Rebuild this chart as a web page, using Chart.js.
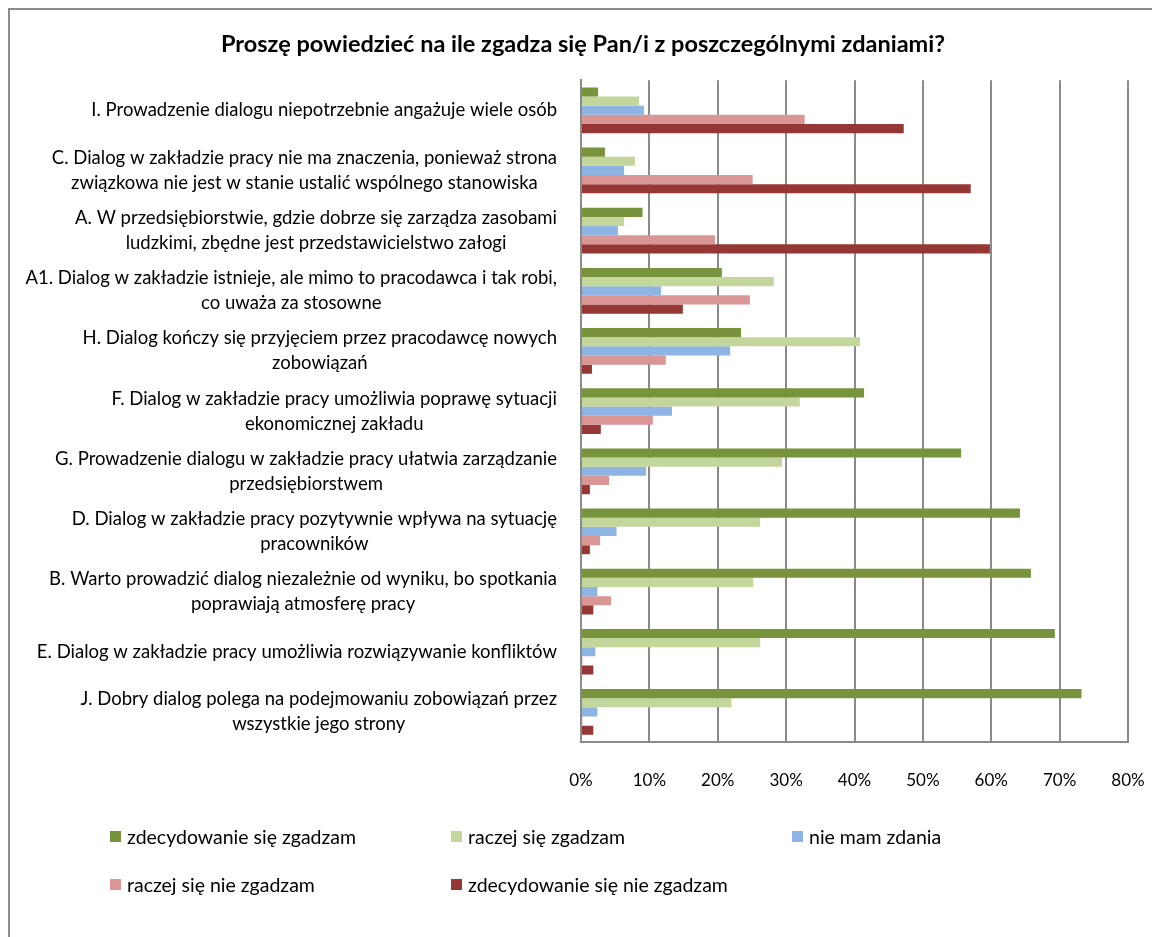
<!DOCTYPE html>
<html>
<head>
<meta charset="utf-8">
<script src="https://cdn.jsdelivr.net/npm/chart.js@4"></script>
<style>
  body { margin: 0; background: #fff; font-family: Lato, sans-serif; }
  #wrap { position: relative; width: 1152px; height: 937px; overflow: hidden; }
  #frame { position: absolute; left: 8px; top: 8px; right: -10px; bottom: -10px;
           border-left: 2px solid #8c8c8c; border-top: 2px solid #8c8c8c; }
  #legend { position: absolute; left: 0; top: 0; }
  .item { position: absolute; display: flex; align-items: center; height: 20px; font-size: 19.5px; color: #000; white-space: nowrap; }
  .box { width: 11px; height: 11px; margin-right: 6px; }
</style>
</head>
<body>
<div id="wrap">
  <canvas id="chart" width="1152" height="937"></canvas>
  <div id="frame"></div>
  <div id="legend"></div>
</div>
<script>
const categories = [
    ['I. Prowadzenie dialogu niepotrzebnie angażuje wiele osób'],
    ['C. Dialog w zakładzie pracy nie ma znaczenia, ponieważ strona', 'związkowa nie jest w stanie ustalić wspólnego stanowiska'],
    ['A. W przedsiębiorstwie, gdzie dobrze się zarządza zasobami', 'ludzkimi, zbędne jest przedstawicielstwo załogi'],
    ['A1. Dialog w zakładzie istnieje, ale mimo to pracodawca i tak robi,', 'co uważa za stosowne'],
    ['H. Dialog kończy się przyjęciem przez pracodawcę nowych', 'zobowiązań'],
    ['F. Dialog w zakładzie pracy umożliwia poprawę sytuacji', 'ekonomicznej zakładu'],
    ['G. Prowadzenie dialogu w zakładzie pracy ułatwia zarządzanie', 'przedsiębiorstwem'],
    ['D. Dialog w zakładzie pracy pozytywnie wpływa na sytuację', 'pracowników'],
    ['B. Warto prowadzić dialog niezależnie od wyniku, bo spotkania', 'poprawiają atmosferę pracy'],
    ['E. Dialog w zakładzie pracy umożliwia rozwiązywanie konfliktów'],
    ['J. Dobry dialog polega na podejmowaniu zobowiązań przez', 'wszystkie jego strony']
];

const seriesNames = [
    'zdecydowanie się zgadzam',
    'raczej się zgadzam',
    'nie mam zdania',
    'raczej się nie zgadzam',
    'zdecydowanie się nie zgadzam'
];
const seriesColors = ['#77933c', '#c3d69b', '#8eb4e3', '#d99694', '#953735'];

// percentages, one value per category (same order as categories)
const stronglyAgree    = [2.5, 3.5, 9.0, 20.6, 23.4, 41.4, 55.6, 64.2, 65.8, 69.3, 73.2];
const ratherAgree      = [8.5, 7.9, 6.3, 28.2, 40.8, 32.0, 29.4, 26.2, 25.2, 26.2, 22.0];
const noOpinion        = [9.2, 6.3, 5.4, 11.7, 21.8, 13.3, 9.5, 5.2, 2.4, 2.1, 2.4];
const ratherDisagree   = [32.7, 25.1, 19.6, 24.7, 12.4, 10.5, 4.1, 2.8, 4.4, 0.2, 0.2];
const stronglyDisagree = [47.2, 57.0, 59.8, 14.9, 1.6, 2.9, 1.3, 1.3, 1.8, 1.8, 1.8];

const tickValues = [0, 10, 20, 30, 40, 50, 60, 70, 80];

const seriesData = [stronglyAgree, ratherAgree, noOpinion, ratherDisagree, stronglyDisagree];

const FONT = 'Lato, sans-serif';
const PLOT_LEFT = 581;
const PAD_LEFT = 38;

// category labels: block right aligned next to the axis, lines centred inside the block
const categoryLabels = {
    id: 'categoryLabels',
    afterDraw(chart) {
        const ctx = chart.ctx;
        const y = chart.scales.y;
        const right = chart.chartArea.left - 24;
        const lineH = 25;
        ctx.save();
        ctx.font = '18.5px ' + FONT;
        ctx.fillStyle = '#000';
        ctx.textAlign = 'center';
        ctx.textBaseline = 'middle';
        categories.forEach((lines, i) => {
            const cy = y.getPixelForTick(i);
            const w = Math.max(...lines.map(l => ctx.measureText(l).width));
            const cx = right - w / 2;
            lines.forEach((line, j) => {
                ctx.fillText(line, cx, cy + (j - (lines.length - 1) / 2) * lineH);
            });
        });
        ctx.restore();
    }
};

const ctx = document.getElementById('chart').getContext('2d');
new Chart(ctx, {
    type: 'bar',
    data: {
        labels: categories,
        datasets: seriesData.map((d, i) => ({
            label: seriesNames[i],
            data: d,
            backgroundColor: seriesColors[i],
            borderWidth: 0,
            categoryPercentage: 0.76,
            barPercentage: 1
        }))
    },
    options: {
        indexAxis: 'y',
        responsive: false,
        animation: false,
        layout: { padding: { left: PAD_LEFT, right: 24, top: 8, bottom: 0 } },
        plugins: {
            legend: { display: false },
            tooltip: { enabled: false },
            title: {
                display: true,
                text: 'Proszę powiedzieć na ile zgadza się Pan/i z poszczególnymi zdaniami?',
                color: '#000',
                font: { family: FONT, size: 23.5, weight: 'bold', lineHeight: 1.2 },
                padding: { top: 22, bottom: 22 }
            }
        },
        scales: {
            x: {
                min: 0,
                max: 80,
                afterBuildTicks(scale) {
                    scale.ticks = tickValues.map(v => ({ value: v }));
                },
                afterFit(scale) {
                    scale.height = 195;
                    scale.paddingLeft = 0;
                    scale.paddingRight = 0;
                },
                grid: { color: '#8a8a8a', lineWidth: 2, drawTicks: false },
                border: { color: '#8a8a8a', width: 2 },
                ticks: {
                    padding: 28,
                    color: '#000',
                    font: { family: FONT, size: 17 },
                    callback: v => v + '%'
                }
            },
            y: {
                afterFit(scale) { scale.width = PLOT_LEFT - PAD_LEFT; },
                grid: { display: false },
                border: { color: '#8a8a8a', width: 2 },
                ticks: { display: false }
            }
        }
    },
    plugins: [categoryLabels]
});

// legend below the plot, three columns
const legend = document.getElementById('legend');
seriesNames.forEach((name, i) => {
    const el = document.createElement('div');
    el.className = 'item';
    el.style.left = (110 + (i % 3) * 341) + 'px';
    el.style.top = (826 + Math.floor(i / 3) * 48) + 'px';
    el.innerHTML = '<span class="box" style="background:' + seriesColors[i] + '"></span>' + name;
    legend.appendChild(el);
});
</script>
</body>
</html>
